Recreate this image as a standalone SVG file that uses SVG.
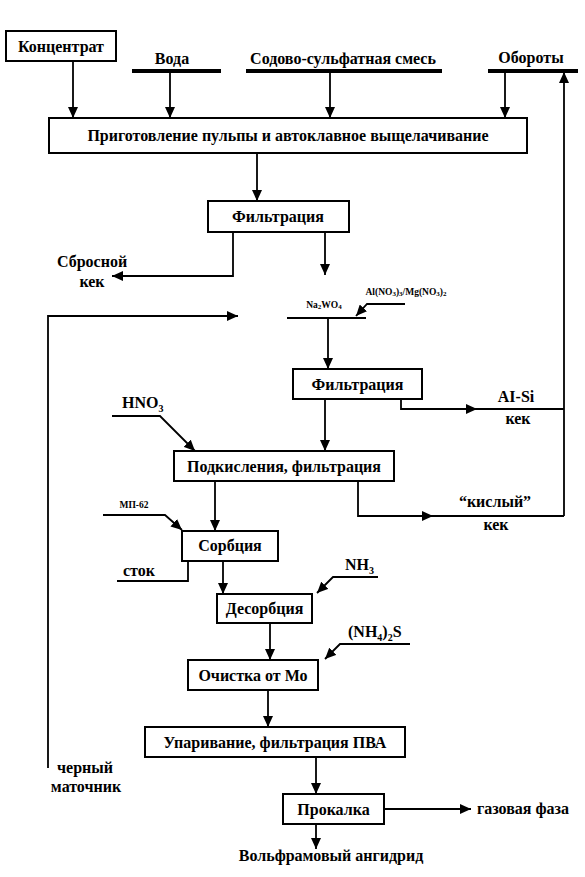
<svg xmlns="http://www.w3.org/2000/svg" width="585" height="877" viewBox="0 0 585 877">
<style>
.b{fill:#fff;stroke:#000;stroke-width:2}
.c{fill:none;stroke:#000;stroke-width:1.8}
.bar{stroke:#000;stroke-width:4}
text{font-family:"Liberation Serif","Times New Roman",serif;font-weight:bold;font-size:16px;fill:#000}
.m{text-anchor:middle}
.s{font-size:9.5px}
</style>
<defs>
<marker id="ah" markerWidth="12" markerHeight="10" refX="11" refY="5" orient="auto" markerUnits="userSpaceOnUse"><path d="M0,0 L11,5 L0,10 z" fill="#000"/></marker>
</defs>
<rect width="585" height="877" fill="#fff"/>
<g id="connectors">
<path class="c" d="M73,61 V118" marker-end="url(#ah)"/>
<path class="c" d="M170,72 V118" marker-end="url(#ah)"/>
<path class="c" d="M330,72 V118" marker-end="url(#ah)"/>
<path class="c" d="M505,72 V118" marker-end="url(#ah)"/>
<path class="c" d="M257,153 V201" marker-end="url(#ah)"/>
<path class="c" d="M233,232 V276 H112" marker-end="url(#ah)"/>
<path class="c" d="M325,232 V275" marker-end="url(#ah)"/>
<path class="c" d="M48,768 V316 H238" marker-end="url(#ah)"/>
<path class="c" d="M287,318 H366"/>
<path class="c" d="M405,304 H367 L356,316" marker-end="url(#ah)"/>
<path class="c" d="M328,318 V369" marker-end="url(#ah)"/>
<path class="c" d="M325,399 V451" marker-end="url(#ah)"/>
<path class="c" d="M401,399 V409 H477" marker-end="url(#ah)"/>
<path class="c" d="M470,409 H564"/>
<path class="c" d="M564,516 V72" marker-end="url(#ah)"/>
<path class="c" d="M358,481 V516 H433" marker-end="url(#ah)"/>
<path class="c" d="M426,516 H564"/>
<path class="c" d="M112,416 H160 L195,451" marker-end="url(#ah)"/>
<path class="c" d="M215,481 V531" marker-end="url(#ah)"/>
<path class="c" d="M103,515 H165 L182,530" marker-end="url(#ah)"/>
<path class="c" d="M188,561 V581 H117"/>
<path class="c" d="M223,561 V594" marker-end="url(#ah)"/>
<path class="c" d="M378,577 H333 L317,593" marker-end="url(#ah)"/>
<path class="c" d="M270,623 V660" marker-end="url(#ah)"/>
<path class="c" d="M410,644 H340 L325,659" marker-end="url(#ah)"/>
<path class="c" d="M268,690 V727" marker-end="url(#ah)"/>
<path class="c" d="M316,757 V794" marker-end="url(#ah)"/>
<path class="c" d="M384,809 H471" marker-end="url(#ah)"/>
<path class="c" d="M316,824 V849" marker-end="url(#ah)"/>
</g>
<g id="concentrate"><rect class="b" x="6" y="31" width="110" height="30"/><text class="m" x="61" y="52">Концентрат</text></g>
<g id="water"><line class="bar" x1="132" y1="71" x2="221" y2="71"/><text class="m" x="172" y="64">Вода</text></g>
<g id="soda"><line class="bar" x1="246" y1="71" x2="442" y2="71"/><text class="m" x="343" y="64">Содово-сульфатная смесь</text></g>
<g id="recycle"><line class="bar" x1="488" y1="71" x2="578" y2="71"/><text class="m" x="531" y="63">Обороты</text></g>
<g id="leach"><rect class="b" x="49" y="118" width="478" height="35"/><text class="m" x="288" y="141">Приготовление пульпы и автоклавное выщелачивание</text></g>
<g id="filt1"><rect class="b" x="208" y="201" width="141" height="31"/><text class="m" x="278" y="222">Фильтрация</text></g>
<g id="waste-cake"><text class="m" x="92" y="267">Сбросной</text><text class="m" x="92" y="287">кек</text></g>
<g id="na2wo4"><text class="m s" x="324" y="308">Na<tspan font-size="7" dy="1">2</tspan><tspan dy="-1">WO</tspan><tspan font-size="7" dy="1">4</tspan></text></g>
<g id="alnitrate"><text class="m s" x="406" y="295">Al(NO<tspan font-size="7" dy="1">3</tspan><tspan dy="-1">)</tspan><tspan font-size="7" dy="1">3</tspan><tspan dy="-1">/Mg(NO</tspan><tspan font-size="7" dy="1">3</tspan><tspan dy="-1">)</tspan><tspan font-size="7" dy="1">2</tspan></text></g>
<g id="filt2"><rect class="b" x="293" y="369" width="129" height="30"/><text class="m" x="357.5" y="390">Фильтрация</text></g>
<g id="alsi-cake"><text class="m" x="516" y="402">AI-Si</text><text class="m" x="518" y="424">кек</text></g>
<g id="hno3"><text x="122" y="408">HNO<tspan font-size="10" dy="4">3</tspan></text></g>
<g id="acid"><rect class="b" x="174" y="451" width="220" height="30"/><text class="m" x="284" y="472">Подкисления, фильтрация</text></g>
<g id="acid-cake"><text class="m" x="495" y="507">“кислый”</text><text class="m" x="496" y="530">кек</text></g>
<g id="mp62"><text class="m s" x="134" y="508">МП-62</text></g>
<g id="sorb"><rect class="b" x="182" y="531" width="96" height="30"/><text class="m" x="230" y="551">Сорбция</text></g>
<g id="drain"><text x="123" y="576">сток</text></g>
<g id="nh3"><text x="345" y="570">NH<tspan font-size="10" dy="4">3</tspan></text></g>
<g id="desorb"><rect class="b" x="217" y="594" width="95" height="29"/><text class="m" x="264.5" y="614">Десорбция</text></g>
<g id="nh4s"><text x="348" y="637">(NH<tspan font-size="10" dy="4">4</tspan><tspan dy="-4">)</tspan><tspan font-size="10" dy="4">2</tspan><tspan dy="-4">S</tspan></text></g>
<g id="mo"><rect class="b" x="188" y="660" width="130" height="30"/><text class="m" x="253" y="681">Очистка от Мо</text></g>
<g id="evap"><rect class="b" x="145" y="727" width="260" height="30"/><text class="m" x="275" y="748">Упаривание, фильтрация ПВА</text></g>
<g id="calc"><rect class="b" x="283" y="794" width="101" height="30"/><text class="m" x="333.5" y="815">Прокалка</text></g>
<g id="gas"><text x="477" y="814">газовая фаза</text></g>
<g id="product"><text class="m" x="331" y="861">Вольфрамовый ангидрид</text></g>
<g id="mother"><text class="m" x="85" y="773">черный</text><text class="m" x="86" y="792">маточник</text></g>
</svg>
